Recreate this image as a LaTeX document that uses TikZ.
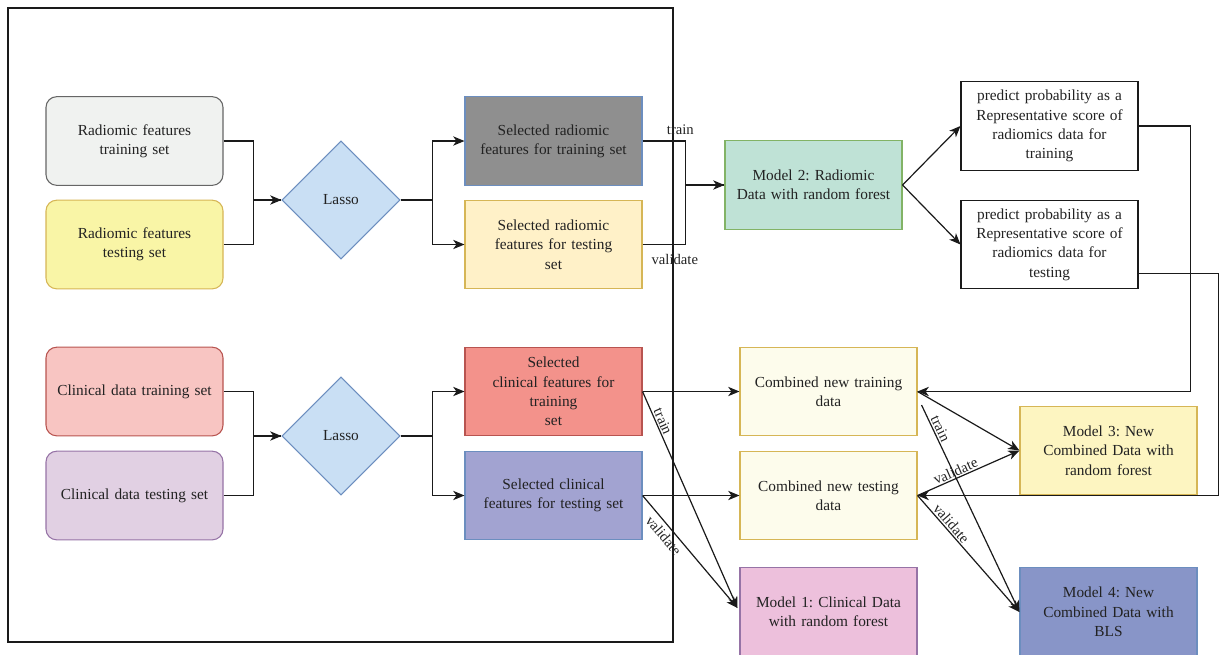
\documentclass[tikz,border=0pt]{standalone}
\usepackage{fontspec}
\setmainfont{Liberation Serif}
\usetikzlibrary{shapes.geometric,arrows.meta,calc}
\definecolor{txt}{HTML}{222222}
\definecolor{ln}{HTML}{1A1A1A}
\definecolor{lassoD}{HTML}{6C8EBF}
\definecolor{lassoF}{HTML}{C9DFF4}
\begin{document}
\frenchspacing
\begin{tikzpicture}[x=0.75pt,y=-0.75pt,
  font=\fontsize{11.5}{14.5}\selectfont\frenchspacing, text=txt,
  box/.style={draw, rectangle, line width=0.8pt, minimum width=132.75pt, minimum height=66.5pt,
    text width=120pt, align=center, inner sep=0pt},
  rbox/.style={box, rounded corners=8pt},
  lasso/.style={draw=lassoD, fill=lassoF, diamond, aspect=1, minimum width=88.5pt, minimum height=88.5pt, inner sep=0pt, line width=0.8pt},
  con/.style={draw=ln, line width=0.9pt},
  arr/.style={con, -{Stealth[length=8.5pt,width=7pt,inset=2.5pt]}},
  lab/.style={font=\fontsize{11}{13}\selectfont, text=txt, inner sep=1pt}
]
\useasboundingbox (0,0) rectangle (1221,654);
% outer frame
\draw[line width=0.9pt, draw=ln] (8,8) rectangle (673,642);
% nodes
\node[rbox, draw={rgb,255:red,102;green,102;blue,102}, fill={rgb,255:red,240;green,242;blue,240}] (rtr) at (134.5,141) {Radiomic features\\training set};
\node[rbox, draw={rgb,255:red,214;green,182;blue,86}, fill={rgb,255:red,249;green,245;blue,166}] (rte) at (134.5,244.5) {Radiomic features\\testing set};
\node[lasso] (l1) at (341,200) {Lasso};
\node[box, draw={rgb,255:red,108;green,142;blue,191}, fill={rgb,255:red,143;green,143;blue,143}] (srtr) at (553.5,141) {Selected radiomic\\features for training set};
\node[box, draw={rgb,255:red,214;green,182;blue,86}, fill={rgb,255:red,255;green,241;blue,200}] (srte) at (553.5,244.5) {Selected radiomic\\features for testing\\set};
\node[box, draw={rgb,255:red,130;green,179;blue,102}, fill={rgb,255:red,191;green,226;blue,214}] (m2) at (813.5,185) {Model 2: Radiomic\\Data with random forest};
\node[box, draw=ln, fill=white] (ptr) at (1049.5,126) {predict probability as a\\Representative score of\\radiomics data for\\training};
\node[box, draw=ln, fill=white] (pte) at (1049.5,244.5) {predict probability as a\\Representative score of\\radiomics data for\\testing};
\node[rbox, draw={rgb,255:red,184;green,84;blue,80}, fill={rgb,255:red,248;green,197;blue,194}] (ctr) at (134.5,391.5) {Clinical data training set};
\node[rbox, draw={rgb,255:red,150;green,115;blue,166}, fill={rgb,255:red,225;green,208;blue,227}] (cte) at (134.5,495.5) {Clinical data testing set};
\node[lasso] (l2) at (341,436) {Lasso};
\node[box, draw={rgb,255:red,184;green,84;blue,80}, fill={rgb,255:red,243;green,146;blue,139}] (sctr) at (553.5,391.5) {Selected\\clinical features for\\training\\set};
\node[box, draw={rgb,255:red,108;green,142;blue,191}, fill={rgb,255:red,162;green,163;blue,209}] (scte) at (553.5,495.5) {Selected clinical\\features for testing set};
\node[box, draw={rgb,255:red,214;green,182;blue,86}, fill={rgb,255:red,253;green,252;blue,236}] (cbtr) at (828.5,391.5) {Combined new training\\data};
\node[box, draw={rgb,255:red,214;green,182;blue,86}, fill={rgb,255:red,253;green,252;blue,236}] (cbte) at (828.5,495.5) {Combined new testing\\data};
\node[box, draw={rgb,255:red,150;green,115;blue,166}, fill={rgb,255:red,237;green,192;blue,220}] (m1) at (828.5,612) {Model 1: Clinical Data\\with random forest};
\node[box, draw={rgb,255:red,214;green,182;blue,86}, fill={rgb,255:red,253;green,245;blue,193}] (m3) at (1108.5,450.5) {Model 3: New\\Combined Data with\\random forest};
\node[box, draw={rgb,255:red,108;green,142;blue,191}, fill={rgb,255:red,136;green,149;blue,200}] (m4) at (1108.5,612) {Model 4: New\\Combined Data with\\BLS};
% radiomic connectors
\draw[arr] (rtr.east) -- ++(30,0) |- (l1.west);
\draw[con] (rte.east) -- ++(30,0) |- (l1.west);
\draw[arr] (l1.east) -- ++(32,0) |- (srtr.west);
\draw[arr] (l1.east) -- ++(32,0) |- (srte.west);
\draw[arr] (srtr.east) -- node[lab, pos=0.88, above=3pt]{train} ++(43,0) |- (m2.west);
\draw[con] (srte.east) -- node[lab, pos=0.75, below=6pt]{validate} ++(43,0) |- (m2.west);
\draw[arr] (m2.east) -- (ptr.west);
\draw[arr] (m2.east) -- (pte.west);
\draw[arr] (ptr.east) -- ++(52,0) |- (cbtr.east);
\draw[arr] ($(pte.south east)+(0,-16)$) -- ++(80,0) |- (cbte.east);
% clinical connectors
\draw[arr] (ctr.east) -- ++(30,0) |- (l2.west);
\draw[con] (cte.east) -- ++(30,0) |- (l2.west);
\draw[arr] (l2.east) -- ++(32,0) |- (sctr.west);
\draw[arr] (l2.east) -- ++(32,0) |- (scte.west);
\draw[arr] (sctr.east) -- (cbtr.west);
\draw[arr] (scte.east) -- (cbte.west);
\draw[arr] (sctr.east) -- node[lab, sloped, above, pos=0.15]{train} ($(m1.west)+(-2,-4)$);
\draw[arr] (scte.east) -- node[lab, sloped, below=2pt, pos=0.3]{validate} ($(m1.west)+(-2,-4)$);
\draw[arr] (cbtr.east) -- (m3.west);
\draw[arr] (cbte.east) -- node[lab, sloped, above, pos=0.4]{validate} (m3.west);
\draw[arr] ($(cbtr.east)+(4,13.5)$) -- node[lab, sloped, above, pos=0.13]{train} (m4.west);
\draw[arr] (cbte.east) -- node[lab, sloped, above, pos=0.28]{validate} (m4.west);
\end{tikzpicture}
\end{document}
